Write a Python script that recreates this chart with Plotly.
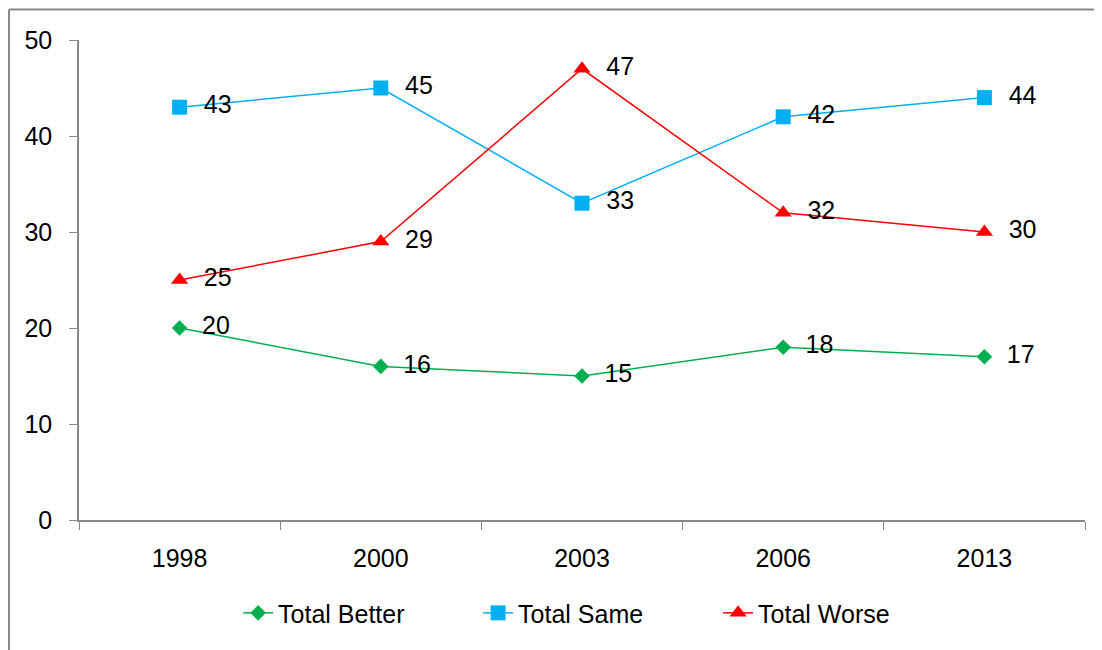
import plotly.graph_objects as go

years = ["1998", "2000", "2003", "2006", "2013"]
total_better = [20, 16, 15, 18, 17]
total_same = [43, 45, 33, 42, 44]
total_worse = [25, 29, 47, 32, 30]

FONT = "Liberation Sans"
FS = 25
fig = go.Figure()

series = [
    ("Total Better", total_better, "#00B050", "diamond", 12),
    ("Total Same", total_same, "#00B0F0", "square", 15),
    ("Total Worse", total_worse, "#FF0000", "triangle-up", 15),
]
for name, vals, color, sym, size in series:
    fig.add_trace(go.Scatter(
        x=years, y=vals, name=name, mode="lines+markers+text",
        line=dict(color=color, width=1.5),
        marker=dict(symbol=sym, size=size, color=color),
        text=["  " + str(v) for v in vals], textposition="middle right",
        textfont=dict(family=FONT, size=FS, color="#000000"),
        cliponaxis=False,
    ))

# page body has an 8px margin, so margins are shifted accordingly
fig.update_layout(
    width=1102, height=650,
    margin=dict(l=71, r=25, t=32, b=138),
    paper_bgcolor="white", plot_bgcolor="white",
    font=dict(family=FONT, size=FS, color="#000000"),
    legend=dict(orientation="h", x=0.516, xanchor="center", y=-0.194, yanchor="middle",
                font=dict(family=FONT, size=FS), entrywidth=195, entrywidthmode="pixels"),
    xaxis=dict(type="category", showline=True, linecolor="#888888", linewidth=1.5,
               ticks="outside", tickson="boundaries", ticklen=8, tickcolor="#888888",
               showgrid=False, zeroline=False, range=[-0.5, 4.5], ticklabelstandoff=15),
    yaxis=dict(range=[0, 50], dtick=10, showline=True, linecolor="#888888", linewidth=1.5,
               ticks="outside", ticklen=8, tickcolor="#888888", showgrid=False,
               zeroline=False, ticklabelstandoff=12),
    shapes=[
        dict(type="line", xref="paper", yref="paper", x0=-0.0696, x1=1.1, y0=1.0635, y1=1.0635,
             line=dict(color="#888888", width=2)),
        dict(type="line", xref="paper", yref="paper", x0=-0.0696, x1=-0.0696, y0=1.0635, y1=-0.4,
             line=dict(color="#888888", width=2)),
    ],
)

fig.write_html("out.html")
